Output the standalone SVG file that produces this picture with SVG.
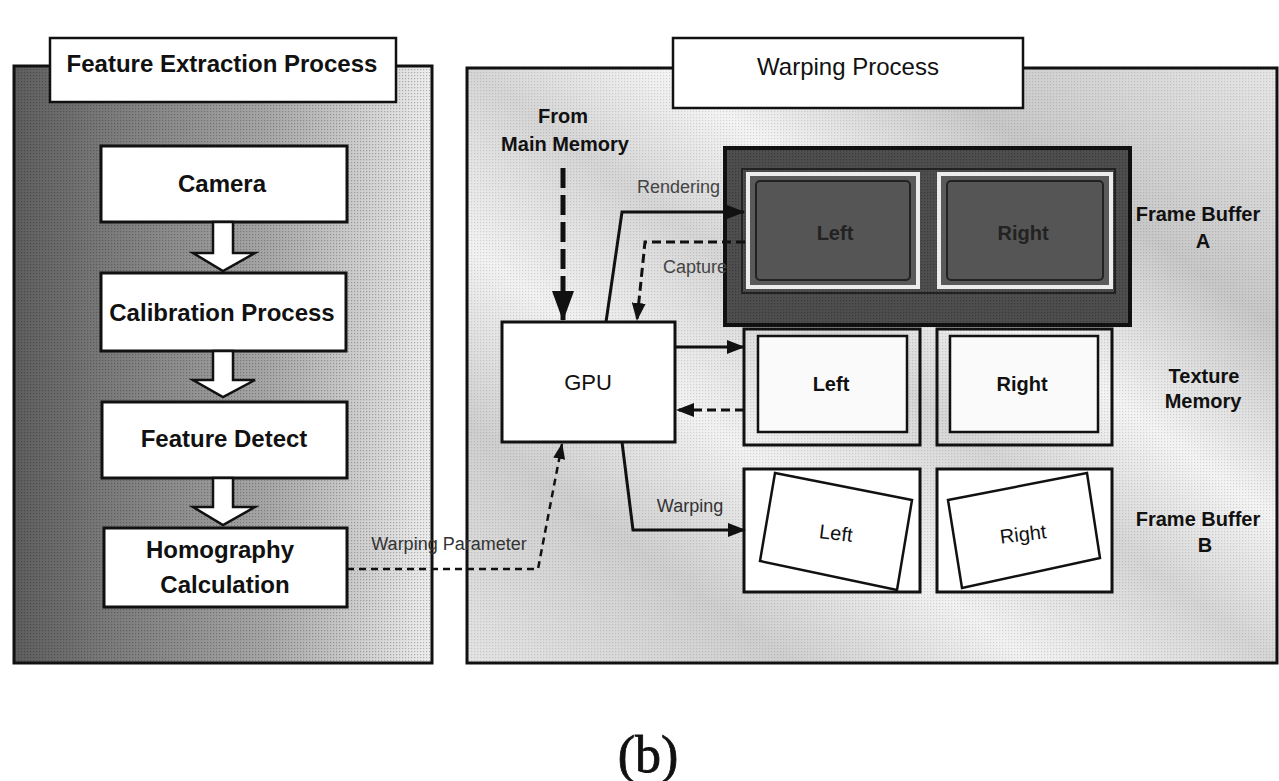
<svg xmlns="http://www.w3.org/2000/svg" width="1279" height="781" viewBox="0 0 1279 781">
<defs>
<style>
.box{fill:#fff;stroke:#111;stroke-width:3}
.lbl{fill:#fff;stroke:#111;stroke-width:2.5}
.t{font-family:"Liberation Sans",Arial,sans-serif;fill:#111}
.b{font-weight:bold}
.c{text-anchor:middle}
.ln{fill:none;stroke:#111;stroke-width:3}
.dash{fill:none;stroke:#111;stroke-width:3;stroke-dasharray:9 5}
.blk{fill:#fff;stroke:#111;stroke-width:2.5}
</style>
<linearGradient id="gL" x1="0" y1="0" x2="1" y2="0">
<stop offset="0" stop-color="#5e5e5e"/>
<stop offset="0.22" stop-color="#7a7a7a"/>
<stop offset="0.6" stop-color="#a6a6a6"/>
<stop offset="0.85" stop-color="#d2d2d2"/>
<stop offset="1" stop-color="#eeeeee"/>
</linearGradient>
<linearGradient id="gR" x1="0" y1="1" x2="1" y2="0">
<stop offset="0" stop-color="#e4e4e4"/>
<stop offset="0.2" stop-color="#cfcfcf"/>
<stop offset="0.35" stop-color="#f2f2f2"/>
<stop offset="0.5" stop-color="#d6d6d6"/>
<stop offset="0.62" stop-color="#f4f4f4"/>
<stop offset="0.78" stop-color="#c8c8c8"/>
<stop offset="1" stop-color="#e6e6e6"/>
</linearGradient>
<pattern id="dots" width="3" height="3" patternUnits="userSpaceOnUse">
<rect width="1.2" height="1.2" fill="#000" opacity="0.25"/>
</pattern>
<marker id="ah" markerUnits="userSpaceOnUse" markerWidth="18" markerHeight="14" refX="17" refY="7" orient="auto">
<path d="M0,0 L18,7 L0,14 z" fill="#111"/>
</marker>
<marker id="ahBig" markerUnits="userSpaceOnUse" markerWidth="30" markerHeight="22" refX="29" refY="11" orient="auto">
<path d="M0,0 L30,11 L0,22 z" fill="#111"/>
</marker>
<marker id="ahS" markerUnits="userSpaceOnUse" markerWidth="16" markerHeight="12" refX="15" refY="6" orient="auto">
<path d="M0,0 L16,6 L0,12 z" fill="#111"/>
</marker>
</defs>

<rect width="1279" height="781" fill="#fff"/>

<!-- Left panel -->
<g id="panel-feature">
<rect x="14" y="66" width="418" height="597" fill="url(#gL)"/>
<rect x="14" y="66" width="418" height="597" fill="url(#dots)"/>
<rect x="14" y="66" width="418" height="597" fill="none" stroke="#111" stroke-width="3"/>
</g>
<g id="label-feature">
<rect class="lbl" x="50" y="38" width="346" height="64"/>
<text class="t b c" x="222" y="72" font-size="24">Feature Extraction Process</text>
</g>

<!-- Right panel -->
<g id="panel-warping">
<rect x="467" y="68" width="810" height="595" fill="url(#gR)"/>
<rect x="467" y="68" width="810" height="595" fill="url(#dots)" opacity="0.5"/>
<rect x="467" y="68" width="810" height="595" fill="none" stroke="#111" stroke-width="3"/>
</g>
<g id="label-warping">
<rect class="lbl" x="673" y="38" width="350" height="70"/>
<text class="t c" x="848" y="75" font-size="24">Warping Process</text>
</g>

<!-- Left flow nodes -->
<g id="camera">
<rect class="box" x="101" y="146" width="246" height="76"/>
<text class="t b c" x="222" y="192" font-size="24">Camera</text>
</g>
<g id="calibration">
<rect class="box" x="101" y="273" width="245" height="78"/>
<text class="t b c" x="222" y="321" font-size="24">Calibration Process</text>
</g>
<g id="feature-detect">
<rect class="box" x="102" y="402" width="245" height="76"/>
<text class="t b c" x="224" y="447" font-size="24">Feature Detect</text>
</g>
<g id="homography">
<rect class="box" x="104" y="528" width="243" height="79"/>
<text class="t b c" x="220" y="558" font-size="24">Homography</text>
<text class="t b c" x="225" y="593" font-size="24">Calculation</text>
</g>

<!-- Block arrows -->
<g id="block-arrows">
<polygon class="blk" points="213,222 233,222 233,253 255,253 223,271 193,253 213,253"/>
<polygon class="blk" points="213,351 233,351 233,380 255,380 223,397 193,380 213,380"/>
<polygon class="blk" points="213,478 233,478 233,507 255,507 223,525 193,507 213,507"/>
</g>

<!-- From Main Memory label -->
<g id="main-memory">
<text class="t b c" x="563" y="123" font-size="20">From</text>
<text class="t b c" x="565" y="151" font-size="20">Main Memory</text>
</g>

<!-- GPU -->
<g id="gpu">
<rect class="box" x="502" y="322" width="173" height="120"/>
<text class="t c" x="588" y="390" font-size="22">GPU</text>
</g>

<!-- Frame Buffer A -->
<g id="frame-buffer-a">
<rect x="725" y="148" width="405" height="177" fill="#4e4e4e" stroke="#111" stroke-width="4"/>
<rect x="725" y="148" width="405" height="177" fill="url(#dots)"/>
<rect x="742" y="169" width="373" height="124" fill="none" stroke="#222" stroke-width="2"/>
<rect x="748" y="174" width="170" height="113" fill="#5a5a5a" stroke="#ececec" stroke-width="4"/>
<rect x="756" y="181" width="154" height="99" rx="4" fill="#555" stroke="#222" stroke-width="2"/>
<rect x="939" y="174" width="172" height="113" fill="#5a5a5a" stroke="#ececec" stroke-width="4"/>
<rect x="947" y="181" width="156" height="99" rx="4" fill="#555" stroke="#222" stroke-width="2"/>
<text class="t b c" x="835" y="240" font-size="20" style="fill:#222">Left</text>
<text class="t b c" x="1023" y="240" font-size="20" style="fill:#222">Right</text>
</g>
<g id="label-fba">
<text class="t b c" x="1198" y="221" font-size="20">Frame Buffer</text>
<text class="t b c" x="1203" y="248" font-size="20">A</text>
</g>

<!-- Texture Memory -->
<g id="texture-memory">
<rect x="744" y="329" width="176" height="116" fill="none" stroke="#111" stroke-width="3"/>
<rect x="758" y="336" width="149" height="96" fill="#fafafa" stroke="#111" stroke-width="2.5"/>
<rect x="937" y="329" width="175" height="116" fill="none" stroke="#111" stroke-width="3"/>
<rect x="950" y="336" width="148" height="96" fill="#fafafa" stroke="#111" stroke-width="2.5"/>
<text class="t b c" x="831" y="391" font-size="20">Left</text>
<text class="t b c" x="1022" y="391" font-size="20">Right</text>
</g>
<g id="label-tm">
<text class="t b c" x="1204" y="383" font-size="20">Texture</text>
<text class="t b c" x="1203" y="408" font-size="20">Memory</text>
</g>

<!-- Frame Buffer B -->
<g id="frame-buffer-b">
<rect x="744" y="469" width="176" height="123" fill="#fff" stroke="#111" stroke-width="3"/>
<polygon points="775,473 912,500 897,590 760,561" fill="#fff" stroke="#111" stroke-width="2.5"/>
<rect x="937" y="469" width="175" height="123" fill="#fff" stroke="#111" stroke-width="3"/>
<polygon points="948,500 1087,473 1100,558 962,588" fill="#fff" stroke="#111" stroke-width="2.5"/>
<text class="t c" x="836" y="540" font-size="20" transform="rotate(7 836 533)">Left</text>
<text class="t c" x="1023" y="541" font-size="20" transform="rotate(-7 1023 534)">Right</text>
</g>
<g id="label-fbb">
<text class="t b c" x="1198" y="526" font-size="20">Frame Buffer</text>
<text class="t b c" x="1205" y="552" font-size="20">B</text>
</g>

<!-- Connectors -->
<g id="connectors">
<path d="M563,168 L563,320" fill="none" stroke="#111" stroke-width="5" stroke-dasharray="20 7" marker-end="url(#ahBig)"/>
<path class="ln" d="M606,322 L622,212 L744,212" marker-end="url(#ah)"/>
<path class="dash" d="M745,242 L645,242 L637,320" marker-end="url(#ah)"/>
<path class="ln" d="M675,347 L744,347" marker-end="url(#ah)"/>
<path class="dash" d="M744,410 L677,410" marker-end="url(#ah)"/>
<path class="ln" d="M622,442 L633,530 L745,530" marker-end="url(#ah)"/>
<path d="M347,569 L538,569 L562,444" fill="none" stroke="#111" stroke-width="2.5" stroke-dasharray="7 5" marker-end="url(#ahS)"/>
</g>

<g id="connector-labels">
<text class="t" x="720" y="193" font-size="18" text-anchor="end" style="fill:#444">Rendering</text>
<text class="t" x="663" y="273" font-size="18" style="fill:#444">Capture</text>
<text class="t c" x="690" y="512" font-size="18" style="fill:#333">Warping</text>
<text class="t c" x="449" y="550" font-size="18" style="fill:#333">Warping Parameter</text>
</g>

<text x="648" y="772" font-family="'Liberation Serif','Times New Roman',serif" font-size="52" text-anchor="middle" fill="#111" stroke="#111" stroke-width="0.8">(b)</text>
</svg>
